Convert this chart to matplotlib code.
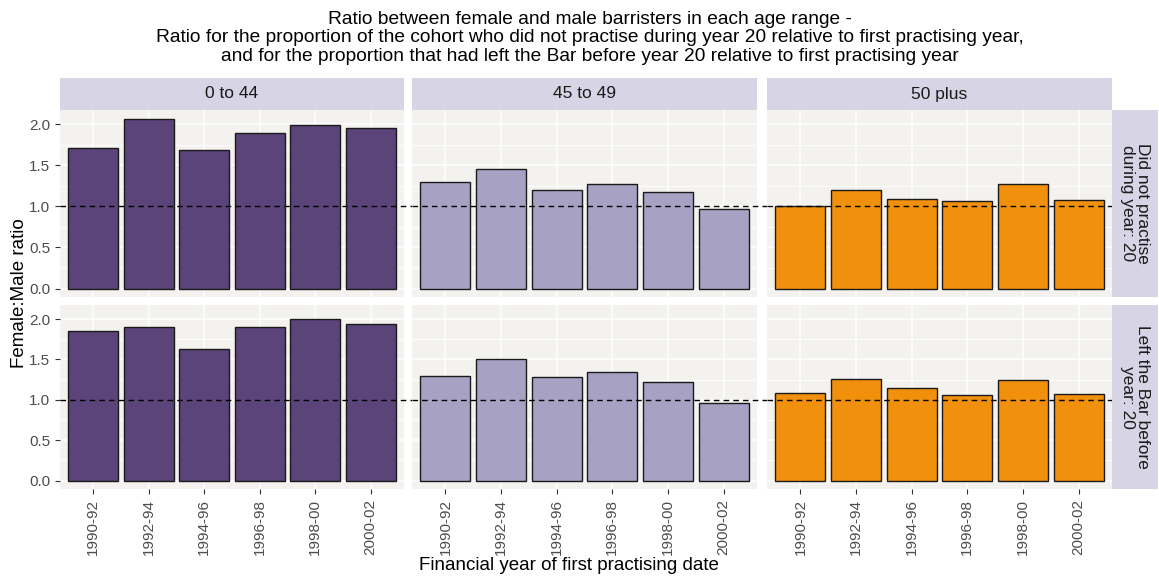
import matplotlib
matplotlib.use("Agg")
import matplotlib.pyplot as plt
from matplotlib.patches import Rectangle
from matplotlib.ticker import MultipleLocator, FormatStrFormatter

plt.rcParams['font.family'] = ['Liberation Sans', 'DejaVu Sans']

years = ["1990-92", "1992-94", "1994-96", "1996-98", "1998-00", "2000-02"]
age_groups = ["0 to 44", "45 to 49", "50 plus"]
measures = ["Did not practise\nduring year: 20", "Left the Bar before\nyear: 20"]

did_not_practise = {
    "0 to 44":  [1.71, 2.07, 1.69, 1.89, 1.99, 1.96],
    "45 to 49": [1.30, 1.46, 1.20, 1.27, 1.18, 0.97],
    "50 plus":  [1.00, 1.20, 1.09, 1.06, 1.27, 1.08],
}
left_bar = {
    "0 to 44":  [1.85, 1.90, 1.63, 1.90, 2.00, 1.94],
    "45 to 49": [1.30, 1.51, 1.28, 1.345, 1.225, 0.965],
    "50 plus":  [1.09, 1.255, 1.15, 1.06, 1.25, 1.075],
}
data_rows = [did_not_practise, left_bar]
colors = {"0 to 44": "#5A4479", "45 to 49": "#A7A2C4", "50 plus": "#F0900C"}

W, H = 1159, 579
fig = plt.figure(figsize=(W / 100, H / 100), dpi=100)

col_x = [(60, 404), (412, 757), (767, 1112)]
row_y = [(110, 297), (305, 489)]
strip_top = 78
right_strip = (1112, 1158)

panel_bg = "#F3F2EE"
strip_bg = "#D6D4E5"
tick_col = "#4D4D4D"

ymax_data = max(max(max(v) for v in d.values()) for d in data_rows)
ylim = (-0.05 * ymax_data, ymax_data * 1.05)

def fx(px):
    return px / W

def fy(py):
    return 1 - py / H

for r, (y0, y1) in enumerate(row_y):
    for c, (x0, x1) in enumerate(col_x):
        ax = fig.add_axes([fx(x0), fy(y1), fx(x1) - fx(x0), (y1 - y0) / H])
        ax.set_facecolor(panel_bg)
        grp = age_groups[c]
        vals = data_rows[r][grp]
        xs = list(range(1, len(years) + 1))
        ax.bar(xs, vals, width=0.9, color=colors[grp], edgecolor="#1A1A1A", linewidth=1.0, zorder=3)
        if c < len(col_x) - 1:
            ext = 1 + (col_x[c + 1][0] - x1) / (x1 - x0)
        else:
            ext = 1
        ax.axhline(1.0, xmin=0, xmax=ext, color="black", linestyle=(0, (4, 3)),
                   linewidth=1.0, zorder=4, clip_on=False)
        ax.set_xlim(0.4, len(years) + 0.6)
        ax.set_ylim(*ylim)
        ax.yaxis.set_major_locator(MultipleLocator(0.5))
        ax.yaxis.set_minor_locator(MultipleLocator(0.25))
        ax.yaxis.set_major_formatter(FormatStrFormatter("%.1f"))
        ax.set_xticks(xs)
        ax.grid(True, which="major", color="white", linewidth=1.1, zorder=0)
        ax.grid(True, which="minor", axis="y", color="white", linewidth=0.6, zorder=0)
        for s in ax.spines.values():
            s.set_visible(False)
        ax.tick_params(which="minor", length=0)
        ax.tick_params(which="major", length=3.5, width=0.8, color="#333333", labelcolor=tick_col, labelsize=11)
        if c != 0:
            ax.tick_params(axis="y", which="both", left=False, labelleft=False)
        if r == 1:
            ax.set_xticklabels(years, rotation=90)
        else:
            ax.tick_params(axis="x", which="both", bottom=False, labelbottom=False)
        ax.set_axisbelow(True)

# column strips
for c, (x0, x1) in enumerate(col_x):
    fig.patches.append(Rectangle((fx(x0), fy(row_y[0][0])), fx(x1) - fx(x0), (row_y[0][0] - strip_top) / H,
                                 transform=fig.transFigure, facecolor=strip_bg, edgecolor="none"))
    fig.text(fx((x0 + x1) / 2), fy((strip_top + row_y[0][0]) / 2), age_groups[c],
             ha="center", va="center", fontsize=12.5, color="#1A1A1A")

# row strips
for r, (y0, y1) in enumerate(row_y):
    fig.patches.append(Rectangle((fx(right_strip[0]), fy(y1)), fx(right_strip[1]) - fx(right_strip[0]), (y1 - y0) / H,
                                 transform=fig.transFigure, facecolor=strip_bg, edgecolor="none"))
    fig.text(fx((right_strip[0] + right_strip[1]) / 2), fy((y0 + y1) / 2), measures[r],
             ha="center", va="center", rotation=-90, fontsize=12.5, color="#1A1A1A", linespacing=0.95)

fig.text(fx(590), fy(38),
         "Ratio between female and male barristers in each age range -\n"
         "Ratio for the proportion of the cohort who did not practise during year 20 relative to first practising year,\n"
         "and for the proportion that had left the Bar before year 20 relative to first practising year",
         ha="center", va="center", fontsize=13.8, color="black", linespacing=1.15)

fig.text(fx(20), fy(293), "Female:Male ratio", rotation=90, ha="center", va="center", fontsize=13.5, color="black")
fig.text(fx(569), fy(566), "Financial year of first practising date", ha="center", va="center", fontsize=13.5, color="black")

fig.savefig("out.png", dpi=100, facecolor="white")
